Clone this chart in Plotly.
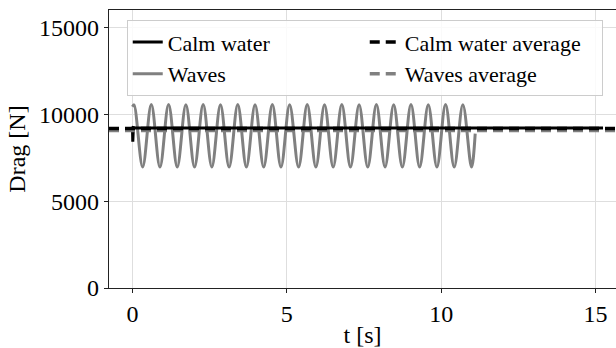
import plotly.graph_objects as go

# ---- data -------------------------------------------------------------
# Calm-water drag: short start-up transient, then steady
calm_t = [0.0, 0.01, 0.03, 0.10, 15.24]
calm_drag = [9300, 8430, 9250, 9230, 9230]

# Drag in waves: successive crest / trough values of the oscillation
wave_t = [0.00, 0.05, 0.33, 0.61, 0.89, 1.17, 1.45, 1.73, 2.01, 2.29, 2.57,
          2.85, 3.13, 3.41, 3.69, 3.97, 4.25, 4.53, 4.81, 5.09, 5.38,
          5.66, 5.94, 6.22, 6.50, 6.78, 7.06, 7.34, 7.62, 7.90, 8.18,
          8.46, 8.74, 9.02, 9.30, 9.58, 9.86, 10.14, 10.42, 10.70, 10.98,
          11.10]
wave_drag = [10450, 10560, 6980, 10580, 6970, 10580, 6980, 10570, 6970, 10580, 6980,
             10570, 6970, 10580, 6980, 10570, 6970, 10580, 6980, 10570, 6970,
             10580, 6980, 10570, 6970, 10580, 6980, 10570, 6970, 10580, 6980,
             10570, 6970, 10580, 6980, 10570, 6970, 10580, 6980, 10570, 6970,
             8900]

# Time-averaged drag for each case
calm_avg = 9190
wave_avg = 9080

x_range = [-0.76, 15.66]
y_range = [0, 16030]
x_ticks = [0, 5, 10, 15]
y_ticks = [0, 5000, 10000, 15000]

FONT = "Liberation Serif, Times New Roman, DejaVu Serif, serif"

fig = go.Figure()

fig.add_trace(go.Scatter(
    x=wave_t, y=wave_drag, mode="lines", name="Waves",
    line=dict(color="#808080", width=3, shape="spline", smoothing=1),
    legendrank=3,
))
fig.add_trace(go.Scatter(
    x=calm_t, y=calm_drag, mode="lines", name="Calm water",
    line=dict(color="black", width=3),
    legendrank=1,
))
fig.add_trace(go.Scatter(
    x=x_range, y=[wave_avg, wave_avg], mode="lines", name="Waves average",
    line=dict(color="#808080", width=3.5, dash="10px,6px"),
    legendrank=4,
))
fig.add_trace(go.Scatter(
    x=x_range, y=[calm_avg, calm_avg], mode="lines", name="Calm water average",
    line=dict(color="black", width=3.5, dash="10px,6px"),
    legendrank=2,
))

axis_common = dict(
    showgrid=True, gridcolor="#dedede", gridwidth=1,
    showline=True, linecolor="#222222", linewidth=1.2,
    ticks="outside", ticklen=4, tickwidth=1.2, tickcolor="#222222",
    zeroline=False,
    tickfont=dict(family=FONT, size=24, color="black"),
)

fig.update_xaxes(
    range=x_range, tickvals=x_ticks, mirror=True,
    title=dict(text="t [s]", font=dict(family=FONT, size=24, color="black"), standoff=4),
    **axis_common,
)
fig.update_yaxes(
    range=y_range, tickvals=y_ticks, tickformat="d",
    title=dict(text="Drag [N]", font=dict(family=FONT, size=24, color="black"), standoff=6),
    **axis_common,
)

fig.update_layout(
    width=616, height=348,
    margin=dict(l=109, r=0, t=10, b=58),
    plot_bgcolor="white", paper_bgcolor="white",
    font=dict(family=FONT, color="black"),
    showlegend=True,
    legend=dict(
        orientation="h",
        x=0.035, y=0.963, xanchor="left", yanchor="top",
        entrywidth=192, entrywidthmode="pixels",
        bgcolor="rgba(255,255,255,0.85)",
        bordercolor="#cccccc", borderwidth=1,
        font=dict(family=FONT, size=22, color="black"),
        traceorder="normal",
    ),
)

fig.write_html("out.html")
